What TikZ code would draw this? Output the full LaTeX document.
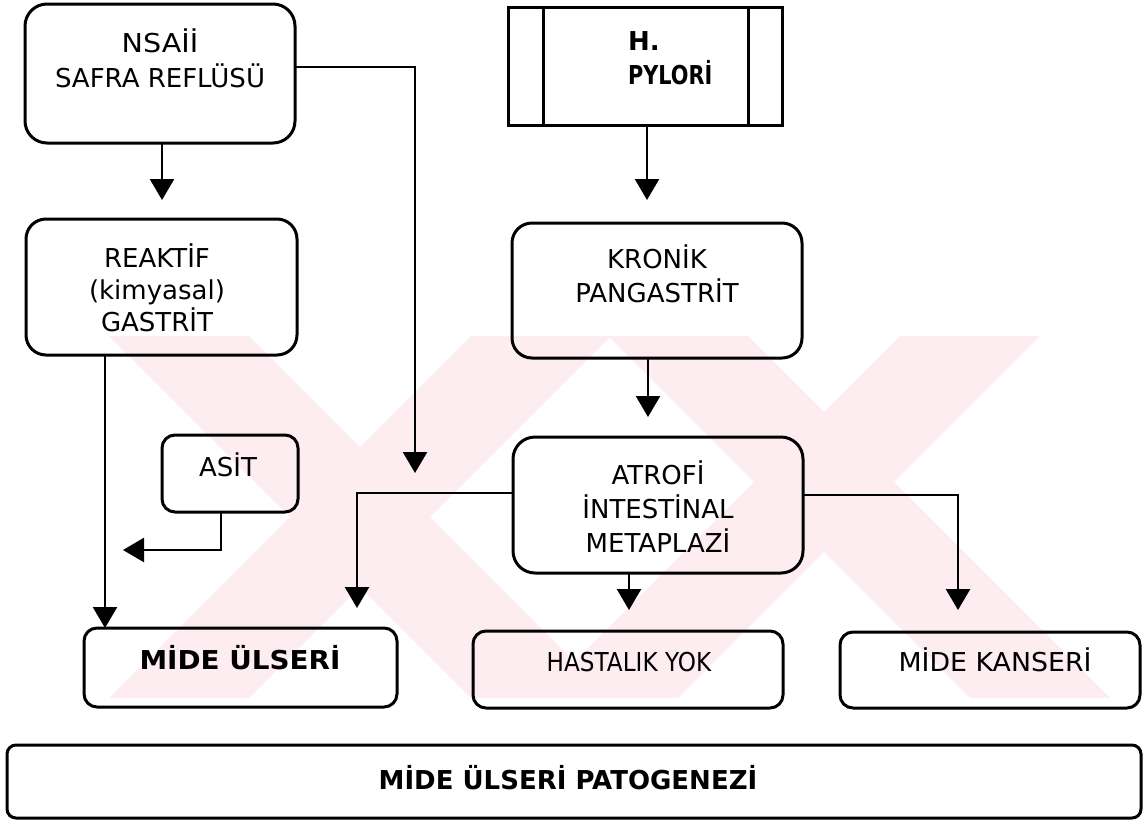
\documentclass[tikz,border=0pt]{standalone}
\usepackage{graphicx}
\usepackage{fontspec}
\setmainfont{DejaVu Sans}
\usetikzlibrary{arrows.meta}
\definecolor{wm}{RGB}{253,236,240}
\begin{document}
\begin{tikzpicture}[x=1pt,y=-1pt,
  box/.style={draw, line width=3pt, rounded corners=20pt, inner sep=0pt, outer sep=0pt},
  sbox/.style={box, rounded corners=13pt},
  txt/.style={inner sep=0pt, outer sep=0pt, align=center, anchor=north, font=\fontsize{26}{34}\selectfont},
  btxt/.style={txt, font=\bfseries\fontsize{26}{34}\selectfont},
  arr/.style={line width=2.5pt, -{Triangle[width=24pt,length=21pt]}}]
\useasboundingbox (0,0) rectangle (1145,825);
% watermark
\begin{scope}
  \clip (100,336) rectangle (1112,698);
  \fill[wm] (109,336) -- (249,336) -- (611,698) -- (471,698) -- cycle;
  \fill[wm] (471,336) -- (611,336) -- (249,698) -- (109,698) -- cycle;
  \fill[wm] (608,336) -- (748,336) -- (1110,698) -- (970,698) -- cycle;
  \fill[wm] (900,336) -- (1040,336) -- (678,698) -- (538,698) -- cycle;
\end{scope}
% boxes
\node[box, minimum width=270pt, minimum height=139pt, rounded corners=22pt] (nsaid) at (160,73.5) {};
\node[draw, line width=3pt, inner sep=0pt, outer sep=0pt, minimum width=274pt, minimum height=118pt] (hpyl) at (645,66) {};
\node[box, minimum width=271pt, minimum height=136pt] (reak) at (161.5,287) {};
\node[sbox, minimum width=136pt, minimum height=77pt] (asit) at (230,473.5) {};
\node[sbox, minimum width=313pt, minimum height=79pt] (ulser) at (240.5,667.5) {};
\node[box, minimum width=290pt, minimum height=135pt] (kron) at (657,290.5) {};
\node[box, minimum width=290pt, minimum height=136pt, rounded corners=22pt] (atro) at (658,505) {};
\node[sbox, minimum width=310pt, minimum height=77pt] (hast) at (628,669.5) {};
\node[sbox, minimum width=300pt, minimum height=76pt] (kans) at (990,670) {};
\node[box, minimum width=1134pt, minimum height=73pt, rounded corners=9pt] (pat) at (574,781.5) {};
\draw[line width=3pt] ([xshift=35pt]hpyl.north west) -- ([xshift=35pt]hpyl.south west);
\draw[line width=3pt] ([xshift=-34pt]hpyl.north east) -- ([xshift=-34pt]hpyl.south east);
% texts
\node[txt, font=\fontsize{26}{35}\selectfont] (nsaid-t) at (160,27.5) {\rule{0pt}{25pt}\scalebox{1.1}[1]{NSAİİ}\\SAFRA REFLÜSÜ};
\node[btxt, align=left, anchor=north west] (hpyl-t) at (628,25.5) {\rule{0pt}{25pt}H.\\\scalebox{0.8}[1]{PYLORİ}};
\node[txt, font=\fontsize{26}{32}\selectfont] (reak-t) at (157,242.5) {\rule{0pt}{25pt}REAKTİF\\(kimyasal)\\GASTRİT};
\node[txt] (asit-t) at (228,451.5) {\rule{0pt}{25pt}ASİT};
\node[btxt] (ulser-t) at (240,644.5) {\rule{0pt}{25pt}\scalebox{1.07}[1]{MİDE ÜLSERİ}};
\node[txt] (kron-t) at (657,243.5) {\rule{0pt}{25pt}KRONİK\\PANGASTRİT};
\node[txt] (atro-t) at (658,459.5) {\rule{0pt}{25pt}ATROFİ\\İNTESTİNAL\\METAPLAZİ};
\node[txt] (hast-t) at (629,646.5) {\rule{0pt}{25pt}\scalebox{0.89}[1]{HASTALIK YOK}};
\node[txt] (kans-t) at (995,646.5) {\rule{0pt}{25pt}\scalebox{1.03}[1]{MİDE KANSERİ}};
\node[btxt] (pat-t) at (568,764.5) {\rule{0pt}{25pt}MİDE ÜLSERİ PATOGENEZİ};
% connectors
\coordinate (nstip) at (415,473);
\coordinate (astip) at (123,550);
\draw[arr, shorten >=19pt] ([xshift=2pt]nsaid.south) -- ([xshift=2pt]nsaid.south |- reak.north);
\draw[arr] ([yshift=6.5pt]nsaid.east) -| (nstip);
\draw[arr, shorten >=23pt] ([xshift=2pt]hpyl.south) -- ([xshift=2pt]hpyl.south |- kron.north);
\draw[arr] ([xshift=-56.5pt]reak.south) -- ([xshift=-56.5pt]reak.south |- ulser.north);
\draw[arr] ([xshift=-9pt]asit.south) |- (astip);
\draw[arr, shorten >=20pt] ([xshift=-9pt]kron.south) -- ([xshift=-9pt]kron.south |- atro.north);
\draw[arr, shorten >=20pt] ([yshift=12pt]atro.west) -| ([xshift=116.5pt]ulser.north);
\draw[arr, shorten >=21pt] ([xshift=-29pt]atro.south) -- ([xshift=-29pt]atro.south |- hast.north);
\draw[arr, shorten >=22pt] ([yshift=10pt]atro.east) -| ([xshift=-32pt]kans.north);
\end{tikzpicture}
\end{document}
